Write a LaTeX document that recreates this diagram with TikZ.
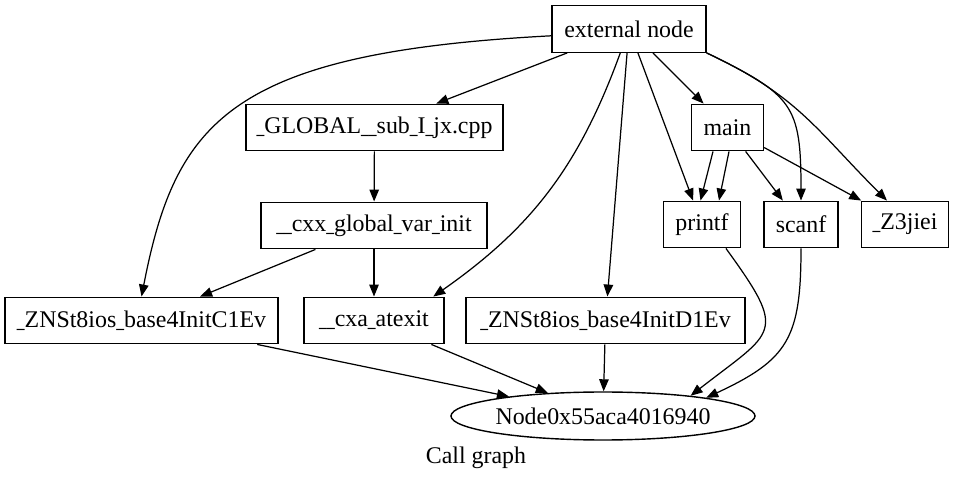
\documentclass[tikz,border=0pt]{standalone}
\usepackage{fontspec}
\setmainfont{Liberation Serif}
\usetikzlibrary{arrows.meta, shapes.geometric}
\newcommand{\usc}{\scalebox{0.65}[1]{\_}}

\begin{document}
\begin{tikzpicture}[
    x=0.02cm, y=0.02cm,
    every node/.style={font=\fontsize{13.6}{16}\selectfont},
    box/.style={
        draw, rectangle, line width=0.8pt,
        minimum width=#1, minimum height=0.93cm, inner sep=0pt
    },
    box/.default=1.44cm,
    call/.style={
        draw, ellipse, line width=0.8pt,
        minimum width=5.92cm, minimum height=0.96cm, inner sep=0pt
    },
    arrow/.style={-{Triangle[length=0.24cm,width=0.19cm]}, line width=0.7pt}
]
\useasboundingbox (0,0) rectangle (954,-479);

\node[box=3.08cm] (ext)    at (629,-29)      {external node};
\node[box=5.14cm] (glob)   at (374.5,-127.5) {\usc GLOBAL\usc\usc sub\usc I\usc jx.cpp};
\node[box]        (main)   at (727.5,-127.5) {main};
\node[box=4.52cm] (cxx)    at (374,-225.5)   {\usc\usc cxx\usc global\usc var\usc init};
\node[box=1.54cm] (printf) at (702,-224.5)   {printf};
\node[box=1.48cm] (scanf)  at (801,-224.5)   {scanf};
\node[box=1.74cm] (z3)     at (905,-224.5)   {\usc Z3jiei};
\node[box=5.46cm] (initc)  at (141.5,-320.5) {\usc ZNSt8ios\usc base4InitC1Ev};
\node[box=2.8cm]  (atexit) at (374,-320.5)   {\usc\usc cxa\usc atexit};
\node[box=5.58cm] (initd)  at (605.5,-320.5) {\usc ZNSt8ios\usc base4InitD1Ev};
\node[call]       (n940)   at (603,-416)     {Node0x55aca4016940};
\node             (title)  at (476,-458)     {Call graph};

\draw[arrow] (ext) -- (glob);
\draw[arrow] (ext) -- (main);
\draw[arrow] (ext) -- (printf);
\draw[arrow] (ext) -- (initd);
\draw[arrow] (ext.185) to[out=183, in=79, out looseness=1.69, in looseness=0.94] (initc.north);
\draw[arrow] (ext.250) to[out=250, in=35] (atexit.22);
\draw[arrow] (ext.south east) to[out=-26, in=90, looseness=1.4] (scanf.north);
\draw[arrow] (ext.south east) to[out=-25, in=135, looseness=1.1] (z3.127);

\draw[arrow] (glob) -- (cxx);
\draw[arrow] (cxx) -- (initc);
\draw[arrow] (cxx) -- (atexit);

\draw[arrow] ([xshift=-0.29cm]main.south) -- ([xshift=-0.03cm]printf.north);
\draw[arrow] ([xshift=0.03cm]main.south) -- ([xshift=0.34cm]printf.north);
\draw[arrow] (main) -- (scanf);
\draw[arrow] (main) -- (z3);

\draw[arrow] (printf.-45) to[out=-54, in=38, looseness=1.8] (n940.13);
\draw[arrow] (scanf.south) to[out=-90, in=25, looseness=1.3] (n940.10);
\draw[arrow] (initc) -- (n940);
\draw[arrow] (atexit) -- (n940);
\draw[arrow] (initd) -- (n940);
\end{tikzpicture}
\end{document}
